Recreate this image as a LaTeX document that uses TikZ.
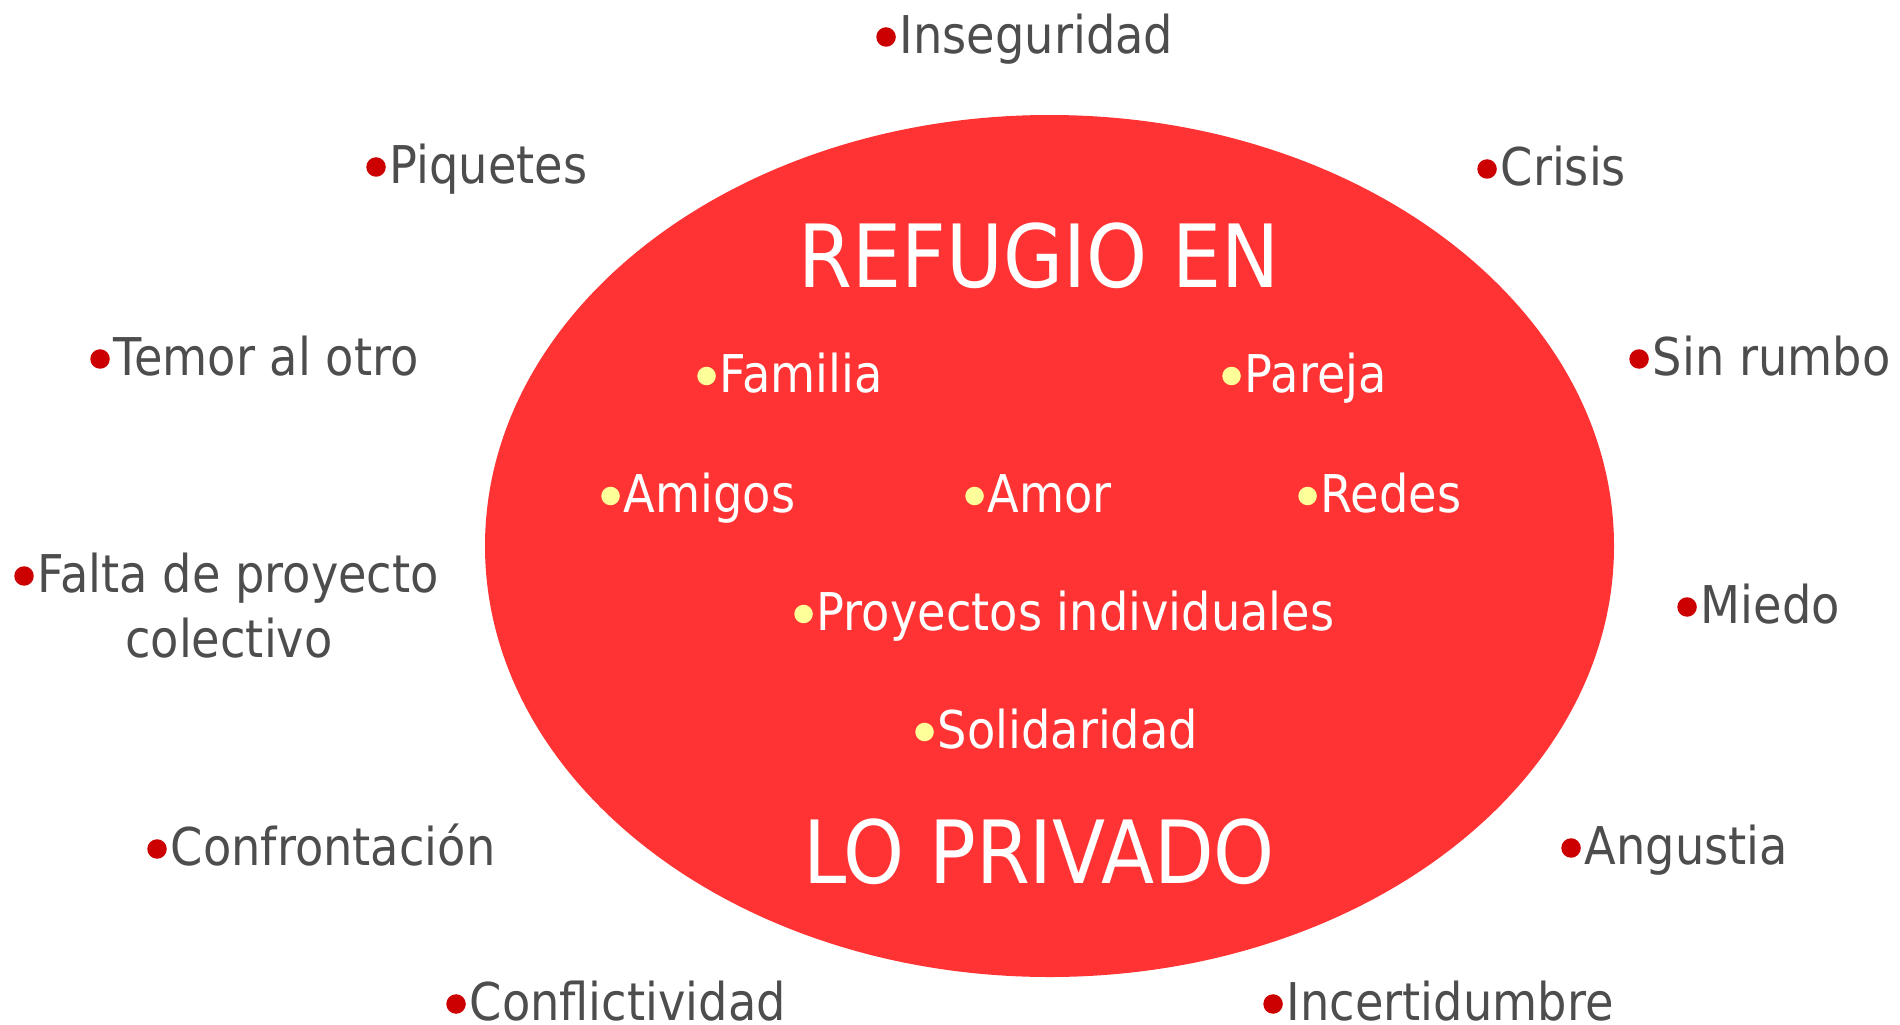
\documentclass[tikz,border=0pt]{standalone}
\usepackage{fontspec}
\setmainfont{DejaVu Sans}[FakeStretch=0.89]
\usepackage{xcolor}
\usepackage{tikz}
\usetikzlibrary{positioning,calc}
\definecolor{elred}{HTML}{FF3333}
\definecolor{bulred}{HTML}{CC0000}
\definecolor{bulyel}{HTML}{FFFF99}
\definecolor{txtgrey}{HTML}{4D4D4D}
\tikzstyle{rdot}= [circle, fill=bulred, inner sep=0pt, minimum size=1.95mm, label distance=0.25mm]
\tikzstyle{ydot}= [circle, fill=bulyel, inner sep=0pt, minimum size=1.85mm, label distance=0.25mm]
\tikzstyle{outtxt}= [anchor=base west, inner sep=0pt, text height=4.2mm, text depth=1mm, text=txtgrey, font=\fontsize{14.8}{18.5}\selectfont]
\tikzstyle{outr}= [outtxt, label={[rdot]left:{}}]
\tikzstyle{innr}= [outtxt, text=white, label={[ydot]left:{}}]
\tikzstyle{ttl}= [anchor=base, inner sep=0pt, text=white, font=\fontsize{24.8}{29}\selectfont]

\begin{document}
\begin{tikzpicture}[x=0.01cm, y=-0.01cm]
						\useasboundingbox (0,0) rectangle (1900,1024);
						\fill[elred] (1049.5,546) ellipse [x radius=564.5, y radius=431];
						% title
						\node[ttl] (t1) at (1039,287) {REFUGIO EN};
						\node[ttl] (t2) at (1039,883) {LO PRIVADO};
						% inside
						\node[innr] (fam) at (719,392) {Familia};
						\node[innr] (par) at (1244,392) {Pareja};
						\node[innr] (ami) at (623,512) {Amigos};
						\node[innr] (amo) at (987,512) {Amor};
						\node[innr] (red) at (1320,512) {Redes};
						\node[innr] (pro) at (816,630) {Proyectos individuales};
						\node[innr] (sol) at (937,748) {Solidaridad};
						% outside
						\node[outr] (ins) at (899,53) {Inseguridad};
						\node[outr] (piq) at (389,183) {Piquetes};
						\node[outr] (cri) at (1500,185) {Crisis};
						\node[outr] (tem) at (113,375) {Temor al otro};
						\node[outr] (sin) at (1652,375) {Sin rumbo};
						\node[outr] (fal) at (37,592) {Falta de proyecto};
						\node[outtxt, anchor=base] (fal2) at (229,657) {colectivo};
						\node[outr] (mie) at (1700,623) {Miedo};
						\node[outr] (con) at (170,865) {Confrontación};
						\node[outr] (ang) at (1584,864) {Angustia};
						\node[outr] (cfl) at (469,1020) {Conflictividad};
						\node[outr] (inc) at (1286,1020) {Incertidumbre};
					\end{tikzpicture}
\end{document}
